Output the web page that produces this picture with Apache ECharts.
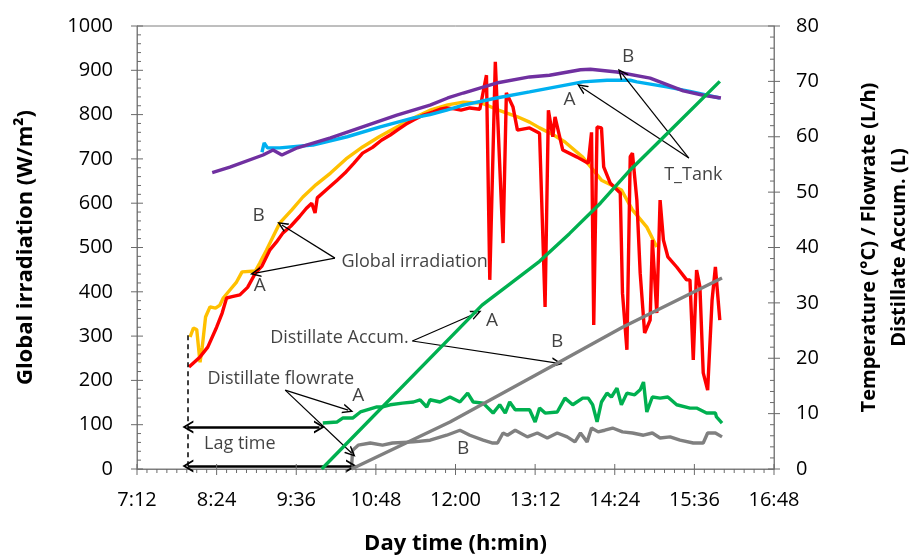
<!DOCTYPE html>
<html><head><meta charset="utf-8">
<script src="https://cdn.jsdelivr.net/npm/echarts@6/dist/echarts.min.js"></script>
<style>html,body{margin:0;padding:0;background:#fff}#c{width:913px;height:556px}</style>
</head><body><div id="c"></div>
<script>
// time in minutes since midnight
const xTicks = {min: 432, max: 1008, step: 72, minor: 8};
const yLeft = {min: 0, max: 1000, step: 100, minor: 5};
const yRight = {min: 0, max: 80, step: 10, minor: 5};

// Global irradiation (W/m2), left axis
const irrA = [[479,230],[489,253],[496,275],[504,320],[509,352],[513,386],[518,389],[525,393],[532,410],[539,442],[545,458],[552,494],[558,512],[564,533],[571,548],[579,570],[585,588],[590,600],[593,578],[595,612],[604,632],[613,652],[620,668],[628,690],[636,713],[645,726],[653,742],[661,754],[668,766],[675,778],[682,788],[691,799],[700,806],[706,812],[712,815],[719,813],[725,810],[733,815],[742,812],[748,889],[751,427],[756,919],[763,510],[766,849],[772,817],[776,765],[787,770],[796,758],[801,366],[804,810],[808,750],[810,795],[817,720],[830,704],[840,690],[843,760],[845,325],[848,772],[852,770],[854,682],[860,645],[869,623],[871,397],[875,269],[878,705],[880,713],[884,607],[887,442],[891,307],[896,336],[898,517],[902,352],[905,607],[908,517],[912,479],[920,456],[929,427],[932,427],[935,246],[938,449],[941,411],[944,217],[948,178],[952,381],[955,456],[959,336]];
const irrB = [[480,298],[483,318],[486,315],[489,241],[491,275],[494,343],[498,366],[503,363],[507,370],[510,386],[516,404],[522,422],[527,445],[539,447],[543,465],[549,494],[561,555],[572,585],[582,614],[594,642],[607,668],[621,700],[636,727],[651,750],[667,772],[682,792],[697,810],[713,822],[727,828],[744,826],[757,812],[776,795],[787,783],[796,770],[808,755],[819,738],[835,704],[852,652],[870,630],[880,585],[893,546],[902,501]];
// Tank temperature (°C), right axis
const tankA = [[545,57.2],[547,58.9],[550,58.0],[561,58.0],[591,58.5],[622,60.0],[652,61.8],[682,63.4],[697,64.0],[712,64.8],[727,65.7],[757,67.0],[787,68.1],[835,69.9],[857,70.2],[878,70.2],[884,69.9],[911,69.0],[932,68.2],[959,67.0]];
const tankB = [[500,53.5],[516,54.5],[546,56.7],[555,57.6],[563,56.7],[577,58.0],[607,59.8],[636,61.8],[667,63.9],[697,65.7],[713,67.0],[727,67.9],[757,69.7],[787,70.8],[805,71.1],[833,72.1],[842,72.2],[866,71.7],[896,70.6],[926,68.3],[944,67.5],[960,67.0]];
// Distillate flowrate (L/h), right axis
const flowA = [[600,8.3],[613,8.5],[618,9.2],[627,9.2],[634,10.3],[649,11.2],[654,11.2],[661,11.6],[672,11.9],[682,12.1],[688,12.5],[694,11.2],[697,12.5],[706,12.1],[715,13.0],[724,12.1],[731,13.7],[736,12.1],[745,11.9],[754,10.1],[760,11.6],[765,10.1],[769,12.1],[774,10.7],[787,10.7],[792,8.5],[796,11.0],[801,10.1],[812,10.3],[819,12.8],[826,11.6],[835,12.8],[840,12.8],[844,11.6],[848,8.5],[852,12.1],[857,13.7],[861,13.0],[866,14.6],[870,11.6],[875,13.7],[882,13.4],[887,14.3],[890,15.7],[893,10.3],[898,13.0],[905,12.8],[912,13.0],[920,11.6],[932,11.0],[938,11.0],[947,10.1],[955,10.1],[956,9.4],[961,8.3]];
const flowB = [[626,0.4],[627,3.4],[632,4.3],[643,4.7],[654,4.3],[663,4.7],[682,4.9],[697,5.2],[712,6.1],[724,7.0],[733,6.1],[745,5.2],[753,4.7],[758,4.7],[763,6.5],[767,6.1],[774,7.0],[785,5.8],[794,6.5],[803,5.6],[812,6.5],[821,5.8],[828,4.9],[833,6.5],[839,4.9],[843,7.4],[849,6.7],[855,7.0],[862,7.4],[871,6.7],[880,6.5],[890,6.1],[898,6.5],[905,5.6],[914,5.8],[923,5.2],[935,4.7],[944,4.7],[948,6.5],[955,6.5],[961,5.8]];
// Distillate accumulated (L), right axis
const accA = [[599,0],[744,29.6],[769,33.4],[796,37.5],[823,42.5],[851,48],[878,54],[911,60.5],[959,70]];
const accB = [[626,0],[715,8.5],[812,19.1],[871,25.6],[961,34.5]];

// annotations in (minutes, left-axis value)
const annoLabels = [[683,467,'Global irradiation',18],[542,571,'B',19],[543,413,'A',19],[615,296,'Distillate Accum.',18],[753,336,'A',19],[812,287,'B',19],[562,203,'Distillate flowrate',18],[632,165,'A',19],[525,56,'Lag time',18],[727,45,'B',19],[935,664,'T_Tank',18],[823,835,'A',19],[876,932,'B',19]];
const annoArrows = [[[611,476],[563,551]],[[611,476],[539,442]],[[681,289],[739,352]],[[681,289],[812,239]],[[566,178],[623,133]],[[566,178],[626,36]],[[931,702],[834,862]],[[931,702],[870,894]]];
const lagArrows = [[[478,95],[597,95]],[[478,7],[626,7]]];
const lagDash = [[478,302],[478,0]];

const FONT = '"Open Sans", "Noto Sans", sans-serif';
const chev = 'path://M5,0 L10,10 L8.4,10 L5,3.2 L1.6,10 L0,10 Z';
const fmt = v => Math.floor(v/60) + ':' + String(v%60).padStart(2,'0');
const axisGray = '#7f7f7f';
const tickGray = '#6a6a6a';

function line(name, data, color, yIdx, z){
  return {name, type:'line', data, yAxisIndex:yIdx, showSymbol:false, symbol:'none',
    lineStyle:{color, width:3.4}, itemStyle:{color}, z, animation:false, silent:true};
}

// tick positions derived from axis settings
function tickList(ax){
  const out = [];
  const n = Math.round((ax.max - ax.min) / ax.step) * ax.minor;
  for (let i = 0; i <= n; i++) out.push([ax.min + i * ax.step / ax.minor, i % ax.minor === 0 ? 1 : 0]);
  return out;
}
function tickSeries(ax, which, yIdx){
  return {type:'custom', yAxisIndex:yIdx, z:6, silent:true, animation:false, clip:false,
    data: tickList(ax),
    renderItem: (params, api) => {
      const v = api.value(0), major = api.value(1) === 1;
      let p, x1, y1, x2, y2;
      if (which === 'x') {
        p = api.coord([v, yLeft.min]);
        x1 = x2 = p[0];
        y1 = major ? p[1] - 5 : p[1]; y2 = major ? p[1] + 6 : p[1] + 4;
      } else if (which === 'l') {
        p = api.coord([xTicks.min, v]);
        y1 = y2 = p[1];
        x1 = major ? p[0] - 6 : p[0]; x2 = major ? p[0] + 6 : p[0] + 4;
      } else {
        p = api.coord([xTicks.max, v]);
        y1 = y2 = p[1];
        x1 = major ? p[0] + 6 : p[0]; x2 = major ? p[0] - 6 : p[0] - 4;
      }
      return {type:'line', shape:{x1, y1, x2, y2}, style:{stroke:tickGray, lineWidth:1}};
    }};
}

const markData = [];
annoArrows.forEach(a => markData.push([{coord:a[0], symbol:'none'},{coord:a[1], symbol:chev, symbolSize:[10,11], lineStyle:{width:1.2}}]));
lagArrows.forEach(a => markData.push([{coord:a[0], symbol:chev, symbolSize:[13,11]},{coord:a[1], symbol:chev, symbolSize:[13,11], lineStyle:{width:2.5}}]));
markData.push([{coord:lagDash[0], symbol:'none'},{coord:lagDash[1], symbol:'none', lineStyle:{width:1.5, type:[5,4]}}]);

const option = {
  backgroundColor:'#fff',
  animation:false,
  grid:{left:137, right:139, top:26, bottom:87, containLabel:false, outerBoundsMode:'none',
        show:true, borderColor:axisGray, borderWidth:1, backgroundColor:'transparent'},
  xAxis:{type:'value', min:xTicks.min, max:xTicks.max, interval:xTicks.step,
    name:'Day time (h:min)', nameLocation:'middle', nameGap:64,
    nameTextStyle:{fontFamily:FONT, fontSize:22, fontWeight:'bold', color:'#000'},
    axisLine:{show:true, lineStyle:{color:axisGray}},
    axisTick:{show:false}, minorTick:{show:false},
    splitLine:{show:false}, minorSplitLine:{show:false},
    axisLabel:{formatter:fmt, fontFamily:FONT, fontSize:20, color:'#000', margin:21}},
  yAxis:[
    {type:'value', min:yLeft.min, max:yLeft.max, interval:yLeft.step, position:'left',
     name:'Global irradiation (W/m²)', nameLocation:'middle', nameGap:100, nameRotate:90,
     nameTextStyle:{fontFamily:FONT, fontSize:22, fontWeight:'bold', color:'#000'},
     axisLine:{show:true, lineStyle:{color:axisGray}},
     axisTick:{show:false}, minorTick:{show:false},
     splitLine:{show:false}, minorSplitLine:{show:false},
     axisLabel:{formatter:v => String(v), fontFamily:FONT, fontSize:20, color:'#000', margin:24}},
    {type:'value', min:yRight.min, max:yRight.max, interval:yRight.step, position:'right',
     name:'Temperature (°C) / Flowrate (L/h)\nDistillate Accum. (L)', nameLocation:'middle', nameGap:80, nameRotate:90,
     nameTextStyle:{fontFamily:FONT, fontSize:20, fontWeight:'bold', color:'#000', lineHeight:30},
     axisLine:{show:true, lineStyle:{color:axisGray}},
     axisTick:{show:false}, minorTick:{show:false},
     splitLine:{show:false}, minorSplitLine:{show:false},
     axisLabel:{formatter:v => String(v), fontFamily:FONT, fontSize:20, color:'#000', margin:22}}
  ],
  series:[
    line('Global irradiation B', irrB, '#FFC000', 0, 2),
    line('Global irradiation A', irrA, '#FF0000', 0, 3),
    line('T_Tank A', tankA, '#00B0F0', 1, 3),
    line('T_Tank B', tankB, '#7030A0', 1, 4),
    line('Distillate flowrate A', flowA, '#00B050', 1, 4),
    line('Distillate flowrate B', flowB, '#808080', 1, 4),
    line('Distillate Accum. A', accA, '#00B050', 1, 5),
    line('Distillate Accum. B', accB, '#808080', 1, 5),
    tickSeries(xTicks, 'x', 0),
    tickSeries(yLeft, 'l', 0),
    tickSeries(yRight, 'r', 1),
    {type:'scatter', yAxisIndex:0, z:10, silent:true, animation:false,
     data: annoLabels.map(a => ({value:[a[0],a[1]], name:a[2], label:{fontSize:a[3]}})),
     symbolSize:1, itemStyle:{color:'rgba(0,0,0,0)'},
     label:{show:true, position:'inside', formatter:p => p.name, color:'#111', fontFamily:FONT, fontSize:18},
     markLine:{silent:true, animation:false, symbol:'none', label:{show:false},
       lineStyle:{color:'#000', width:1.2, type:'solid'}, emphasis:{disabled:true},
       data: markData}}
  ]
};
const chart = echarts.init(document.getElementById('c'), null, {renderer:'canvas'});
chart.setOption(option);
</script></body></html>
